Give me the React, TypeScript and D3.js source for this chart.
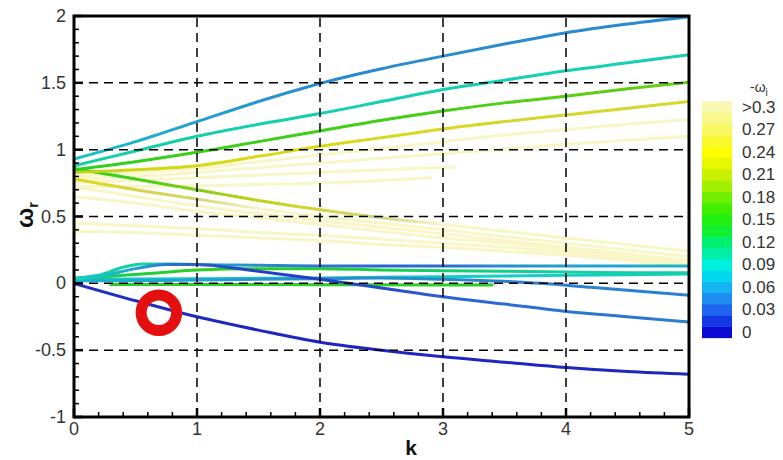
import React from "react";
import * as d3 from "d3";

const W = 783;
const H = 460;

// axis ticks
const kTicks = [0, 1, 2, 3, 4, 5];
const kTickLabels = ["0", "1", "2", "3", "4", "5"];
const omegaTicks = [2, 1.5, 1, 0.5, 0, -0.5, -1];
const omegaTickLabels = ["2", "1.5", "1", "0.5", "0", "-0.5", "-1"];
const kMinor = [0.2, 0.4, 0.6, 0.8, 1.2, 1.4, 1.6, 1.8, 2.2, 2.4, 2.6, 2.8, 3.2, 3.4, 3.6, 3.8, 4.2, 4.4, 4.6, 4.8];
const omegaMinor = [-0.9, -0.8, -0.7, -0.6, -0.4, -0.3, -0.2, -0.1, 0.1, 0.2, 0.3, 0.4, 0.6, 0.7, 0.8, 0.9, 1.1, 1.2, 1.3, 1.4, 1.6, 1.7, 1.8, 1.9];

// common k samples
const kFull = [0, 0.5, 1, 1.5, 2, 2.5, 3, 3.5, 4, 4.5, 5];

// rising branches (omega_r) and their -omega_i colour values
const riseA = [0.93, 1.06, 1.21, 1.36, 1.495, 1.605, 1.7, 1.79, 1.875, 1.94, 1.995];
const riseAc = [0.085, 0.07, 0.06, 0.055, 0.05, 0.05, 0.05, 0.05, 0.05, 0.05, 0.05];
const riseB = [0.88, 0.99, 1.1, 1.19, 1.27, 1.36, 1.45, 1.52, 1.59, 1.65, 1.71];
const riseBc = [0.1, 0.1, 0.1, 0.097, 0.095, 0.095, 0.095, 0.095, 0.095, 0.095, 0.095];
const riseC = [0.85, 0.91, 0.98, 1.06, 1.14, 1.22, 1.29, 1.35, 1.4, 1.455, 1.505];
const riseCc = [0.15, 0.155, 0.16, 0.16, 0.16, 0.162, 0.165, 0.17, 0.172, 0.175, 0.18];
const riseD = [0.83, 0.85, 0.88, 0.95, 1.025, 1.09, 1.155, 1.21, 1.26, 1.31, 1.36];
const riseDc = [0.22, 0.23, 0.235, 0.24, 0.24, 0.245, 0.245, 0.25, 0.25, 0.25, 0.25];

// pale rising branches
const paleR1 = [0.8, 0.83, 0.86, 0.91, 0.96, 1.01, 1.06, 1.11, 1.15, 1.19, 1.225];
const paleR2 = [0.78, 0.8, 0.83, 0.865, 0.9, 0.935, 0.97, 1.005, 1.04, 1.07, 1.1];
const kShortA = [0, 0.5, 1, 1.5, 2, 2.5, 3.1];
const paleR3 = [0.76, 0.77, 0.79, 0.81, 0.83, 0.85, 0.87];
const kShortB = [0, 0.5, 1, 1.5, 2, 2.5, 2.9];
const paleR4 = [0.72, 0.725, 0.73, 0.74, 0.75, 0.77, 0.79];
const paleC7 = [0.32, 0.32, 0.33, 0.33, 0.33, 0.33, 0.33];
const paleC11 = [0.32, 0.32, 0.32, 0.32, 0.32, 0.32, 0.32, 0.32, 0.32, 0.32, 0.32];

// falling branches
const fallA = [0.86, 0.78, 0.7, 0.62, 0.55, 0.49, 0.44, 0.39, 0.34, 0.29, 0.24];
const fallAc = [0.14, 0.16, 0.19, 0.22, 0.255, 0.29, 0.32, 0.33, 0.33, 0.33, 0.33];
const fallB = [0.78, 0.7, 0.63, 0.56, 0.5, 0.45, 0.4, 0.35, 0.3, 0.25, 0.2];
const fallBc = [0.24, 0.26, 0.28, 0.3, 0.32, 0.33, 0.33, 0.33, 0.33, 0.33, 0.33];
const fallC = [0.72, 0.65, 0.58, 0.52, 0.47, 0.42, 0.37, 0.32, 0.27, 0.22, 0.17];
const fallD = [0.65, 0.6, 0.54, 0.49, 0.44, 0.39, 0.34, 0.3, 0.25, 0.2, 0.15];
const fallE = [0.45, 0.43, 0.41, 0.38, 0.36, 0.33, 0.3, 0.27, 0.23, 0.19, 0.13];
const fallF = [0.39, 0.38, 0.36, 0.34, 0.32, 0.29, 0.27, 0.24, 0.21, 0.17, 0.12];

// low branches
const lowDark = [0, -0.13, -0.25, -0.35, -0.44, -0.5, -0.55, -0.59, -0.63, -0.66, -0.68];
const lowDarkC = [0.01, 0.008, 0.006, 0.005, 0.005, 0.005, 0.005, 0.005, 0.005, 0.005, 0.005];
const kCross = [0, 0.25, 0.5, 0.75, 1, 1.25, 1.5, 2, 2.5, 3, 3.5, 4, 4.5, 5];
const crossBlue = [0.03, 0.06, 0.11, 0.14, 0.14, 0.12, 0.09, 0.03, -0.035, -0.1, -0.155, -0.21, -0.25, -0.29];
const crossBlueC = [0.09, 0.08, 0.06, 0.04, 0.03, 0.02, 0.015, 0.015, 0.02, 0.03, 0.035, 0.04, 0.04, 0.045];
const kTeal = [0, 0.2, 0.4, 0.55, 0.8, 1, 1.5, 2, 2.5, 3, 3.5, 4, 4.5, 5];
const tealFlat = [0.04, 0.06, 0.12, 0.145, 0.145, 0.14, 0.135, 0.13, 0.13, 0.13, 0.13, 0.13, 0.13, 0.13];
const tealFlatC = [0.1, 0.1, 0.1, 0.1, 0.09, 0.07, 0.05, 0.04, 0.03, 0.035, 0.05, 0.06, 0.065, 0.07];
const kGreen = [0.1, 0.4, 0.7, 1, 1.5, 2, 2.5, 3, 3.5, 4, 4.5, 5];
const greenLow = [0.04, 0.06, 0.08, 0.1, 0.11, 0.11, 0.1, 0.095, 0.09, 0.085, 0.08, 0.08];
const greenLowC = [0.12, 0.13, 0.14, 0.15, 0.15, 0.14, 0.13, 0.12, 0.11, 0.1, 0.1, 0.1];
const kCyan = [0, 1, 2, 3, 4, 5];
const cyanLow = [0.03, 0.035, 0.04, 0.05, 0.06, 0.07];
const cyanLowC = [0.085, 0.085, 0.088, 0.09, 0.09, 0.09];
const kSteel = [0, 0.5, 1, 1.5, 2, 2.5, 3, 3.5, 3.8, 4.2, 4.6, 5];
const steelLow = [0.02, 0.02, 0.025, 0.03, 0.035, 0.04, 0.03, 0.015, 0, -0.03, -0.06, -0.09];
const steelLowC = [0.07, 0.065, 0.06, 0.055, 0.05, 0.05, 0.05, 0.045, 0.045, 0.045, 0.045, 0.045];
const kZero = [0.3, 1, 2, 3, 3.4];
const greenZero = [-0.008, -0.008, -0.01, -0.012, -0.012];
const greenZeroC = [0.15, 0.15, 0.15, 0.15, 0.15];

// highlighted point
const markerK = [0.69];
const markerOmega = [-0.22];

// colour legend
const legendValues = [0.3, 0.27, 0.24, 0.21, 0.18, 0.15, 0.12, 0.09, 0.06, 0.03, 0];
const legendLabels = [">0.3", "0.27", "0.24", "0.21", "0.18", "0.15", "0.12", "0.09", "0.06", "0.03", "0"];
const bandValues = [0, 0.015, 0.03, 0.045, 0.06, 0.075, 0.09, 0.105, 0.12, 0.135, 0.15, 0.165, 0.18, 0.195, 0.21, 0.225, 0.24, 0.255, 0.27, 0.285, 0.3];
const cmapStops = [0, 0.015, 0.03, 0.045, 0.06, 0.075, 0.09, 0.105, 0.12, 0.135, 0.15, 0.165, 0.18, 0.195, 0.21, 0.225, 0.24, 0.255, 0.27, 0.285, 0.3];
const cmapColors = ["#0a0ad2", "#1438e6", "#1e64f0", "#1e8cf0", "#14b4f0", "#00d8f0", "#00f0e0", "#00f0a8", "#00f070", "#10f030", "#20f010", "#40f000", "#70f000", "#a0f000", "#c8f000", "#e8f800", "#ffff00", "#f8f830", "#f8f860", "#f8f888", "#f8f8b0"];

type Curve = { k: number[]; w: number[]; c: number[] };

const paleCurves: Curve[] = [
  { k: kFull, w: paleR1, c: paleC11 },
  { k: kFull, w: paleR2, c: paleC11 },
  { k: kShortA, w: paleR3, c: paleC7 },
  { k: kShortB, w: paleR4, c: paleC7 },
  { k: kFull, w: fallC, c: paleC11 },
  { k: kFull, w: fallD, c: paleC11 },
  { k: kFull, w: fallE, c: paleC11 },
  { k: kFull, w: fallF, c: paleC11 },
];

const colouredCurves: Curve[] = [
  { k: kFull, w: fallB, c: fallBc },
  { k: kFull, w: fallA, c: fallAc },
  { k: kFull, w: riseD, c: riseDc },
  { k: kFull, w: riseC, c: riseCc },
  { k: kFull, w: riseB, c: riseBc },
  { k: kFull, w: riseA, c: riseAc },
  { k: kZero, w: greenZero, c: greenZeroC },
  { k: kCyan, w: cyanLow, c: cyanLowC },
  { k: kGreen, w: greenLow, c: greenLowC },
  { k: kSteel, w: steelLow, c: steelLowC },
  { k: kTeal, w: tealFlat, c: tealFlatC },
  { k: kCross, w: crossBlue, c: crossBlueC },
  { k: kFull, w: lowDark, c: lowDarkC },
];

const FONT = "'Liberation Sans', Arial, Helvetica, sans-serif";

export default function App() {
  const x = d3.scaleLinear().domain([0, 5]).range([74, 689]);
  const y = d3.scaleLinear().domain([-1, 2]).range([417, 16]);
  const cmap = d3.scaleLinear<string>().domain(cmapStops).range(cmapColors).clamp(true);
  const legendY = d3.scaleLinear().domain([0, 0.3]).range([332, 107]);
  const lineColor = (v: number) =>
    v >= 0.3 ? "#f8f6c6" : d3.interpolateRgb(cmap(v), "#585858")(0.22);

  const line = d3
    .line<[number, number]>()
    .x((d) => x(d[0]))
    .y((d) => y(d[1]))
    .curve(d3.curveMonotoneX);

  const allCurves = [...paleCurves, ...colouredCurves];

  const [x0, x1] = x.range();
  const [yb, yt] = y.range();

  return (
    <svg
      width={W}
      height={H}
      style={{ position: "absolute", left: 0, top: 0, background: "#fff" }}
      fontFamily={FONT}
    >
      <defs>
        {allCurves.map((cv, i) => {
          const kMin = cv.k[0];
          const kMax = cv.k[cv.k.length - 1];
          return (
            <linearGradient
              key={i}
              id={`grad${i}`}
              gradientUnits="userSpaceOnUse"
              x1={x(kMin)}
              x2={x(kMax)}
              y1={0}
              y2={0}
            >
              {cv.k.map((kv, j) => (
                <stop key={j} offset={(kv - kMin) / (kMax - kMin)} stopColor={lineColor(cv.c[j])} />
              ))}
            </linearGradient>
          );
        })}
        <clipPath id="plotClip">
          <rect x={x0} y={yt} width={x1 - x0} height={yb - yt} />
        </clipPath>
      </defs>
      <rect x={0} y={0} width={W} height={H} fill="#fff" />

      <g clipPath="url(#plotClip)">
        {allCurves.map((cv, i) => (
          <path
            key={i}
            d={line(cv.k.map((kv, j) => [kv, cv.w[j]] as [number, number])) || ""}
            fill="none"
            stroke={`url(#grad${i})`}
            strokeWidth={3}
            strokeLinejoin="round"
            strokeLinecap="round"
          />
        ))}
      </g>

      {/* grid */}
      <g stroke="#000" strokeWidth={1.5} strokeDasharray="9,6">
        {kTicks.slice(1, -1).map((t) => (
          <line key={`gx${t}`} x1={x(t)} x2={x(t)} y1={yb} y2={yt} />
        ))}
        {omegaTicks.slice(1, -1).map((t) => (
          <line key={`gy${t}`} x1={x0} x2={x1} y1={y(t)} y2={y(t)} />
        ))}
      </g>

      {/* ticks */}
      <g stroke="#000">
        {omegaTicks.map((t) => (
          <line key={`ty${t}`} x1={x0} x2={x0 + 9} y1={y(t)} y2={y(t)} strokeWidth={2.5} />
        ))}
        {omegaMinor.map((t) => (
          <line key={`my${t}`} x1={x0} x2={x0 + 5} y1={y(t)} y2={y(t)} strokeWidth={1.5} />
        ))}
        {kTicks.map((t) => (
          <line key={`tx${t}`} x1={x(t)} x2={x(t)} y1={yb} y2={yb - 9} strokeWidth={2.5} />
        ))}
        {kMinor.map((t) => (
          <line key={`mx${t}`} x1={x(t)} x2={x(t)} y1={yb} y2={yb - 5} strokeWidth={1.5} />
        ))}
      </g>

      <rect x={x0} y={yt} width={x1 - x0} height={yb - yt} fill="none" stroke="#000" strokeWidth={3} />

      {/* marker ring */}
      {markerK.map((kv, i) => (
        <circle key={i} cx={x(kv)} cy={y(markerOmega[i])} r={17.75} fill="none" stroke="#e41010" strokeWidth={11} />
      ))}

      {/* tick labels */}
      <g fill="#333" fontSize={18}>
        {omegaTicks.map((t, i) => (
          <text key={`ly${t}`} x={x0 - 8} y={y(t)} textAnchor="end" dominantBaseline="central">
            {omegaTickLabels[i]}
          </text>
        ))}
        {kTicks.map((t, i) => (
          <text key={`lx${t}`} x={x(t)} y={435} textAnchor="middle">
            {kTickLabels[i]}
          </text>
        ))}
      </g>

      {/* axis titles */}
      <text x={411} y={455} textAnchor="middle" fontSize={21} fontWeight="bold" fill="#111">
        k
      </text>
      <text transform="translate(33,228) rotate(-90)" fontSize={24} fontWeight="bold" fill="#111">
        ω<tspan fontSize={15} dy={5}>r</tspan>
      </text>

      {/* colour legend */}
      <g>
        {bandValues.map((v) => (
          <rect
            key={`b${v}`}
            x={702}
            y={legendY(v + 0.0075)}
            width={30}
            height={legendY(v - 0.0075) - legendY(v + 0.0075) + 0.5}
            fill={cmap(v)}
          />
        ))}
        {legendValues.map((v, i) => (
          <text key={`lv${v}`} x={742} y={legendY(v)} dominantBaseline="central" fontSize={17} fill="#333">
            {legendLabels[i]}
          </text>
        ))}
        <text x={750} y={92} fontSize={14} fill="#333">
          -ω<tspan fontSize={10} dy={4}>i</tspan>
        </text>
      </g>
    </svg>
  );
}
